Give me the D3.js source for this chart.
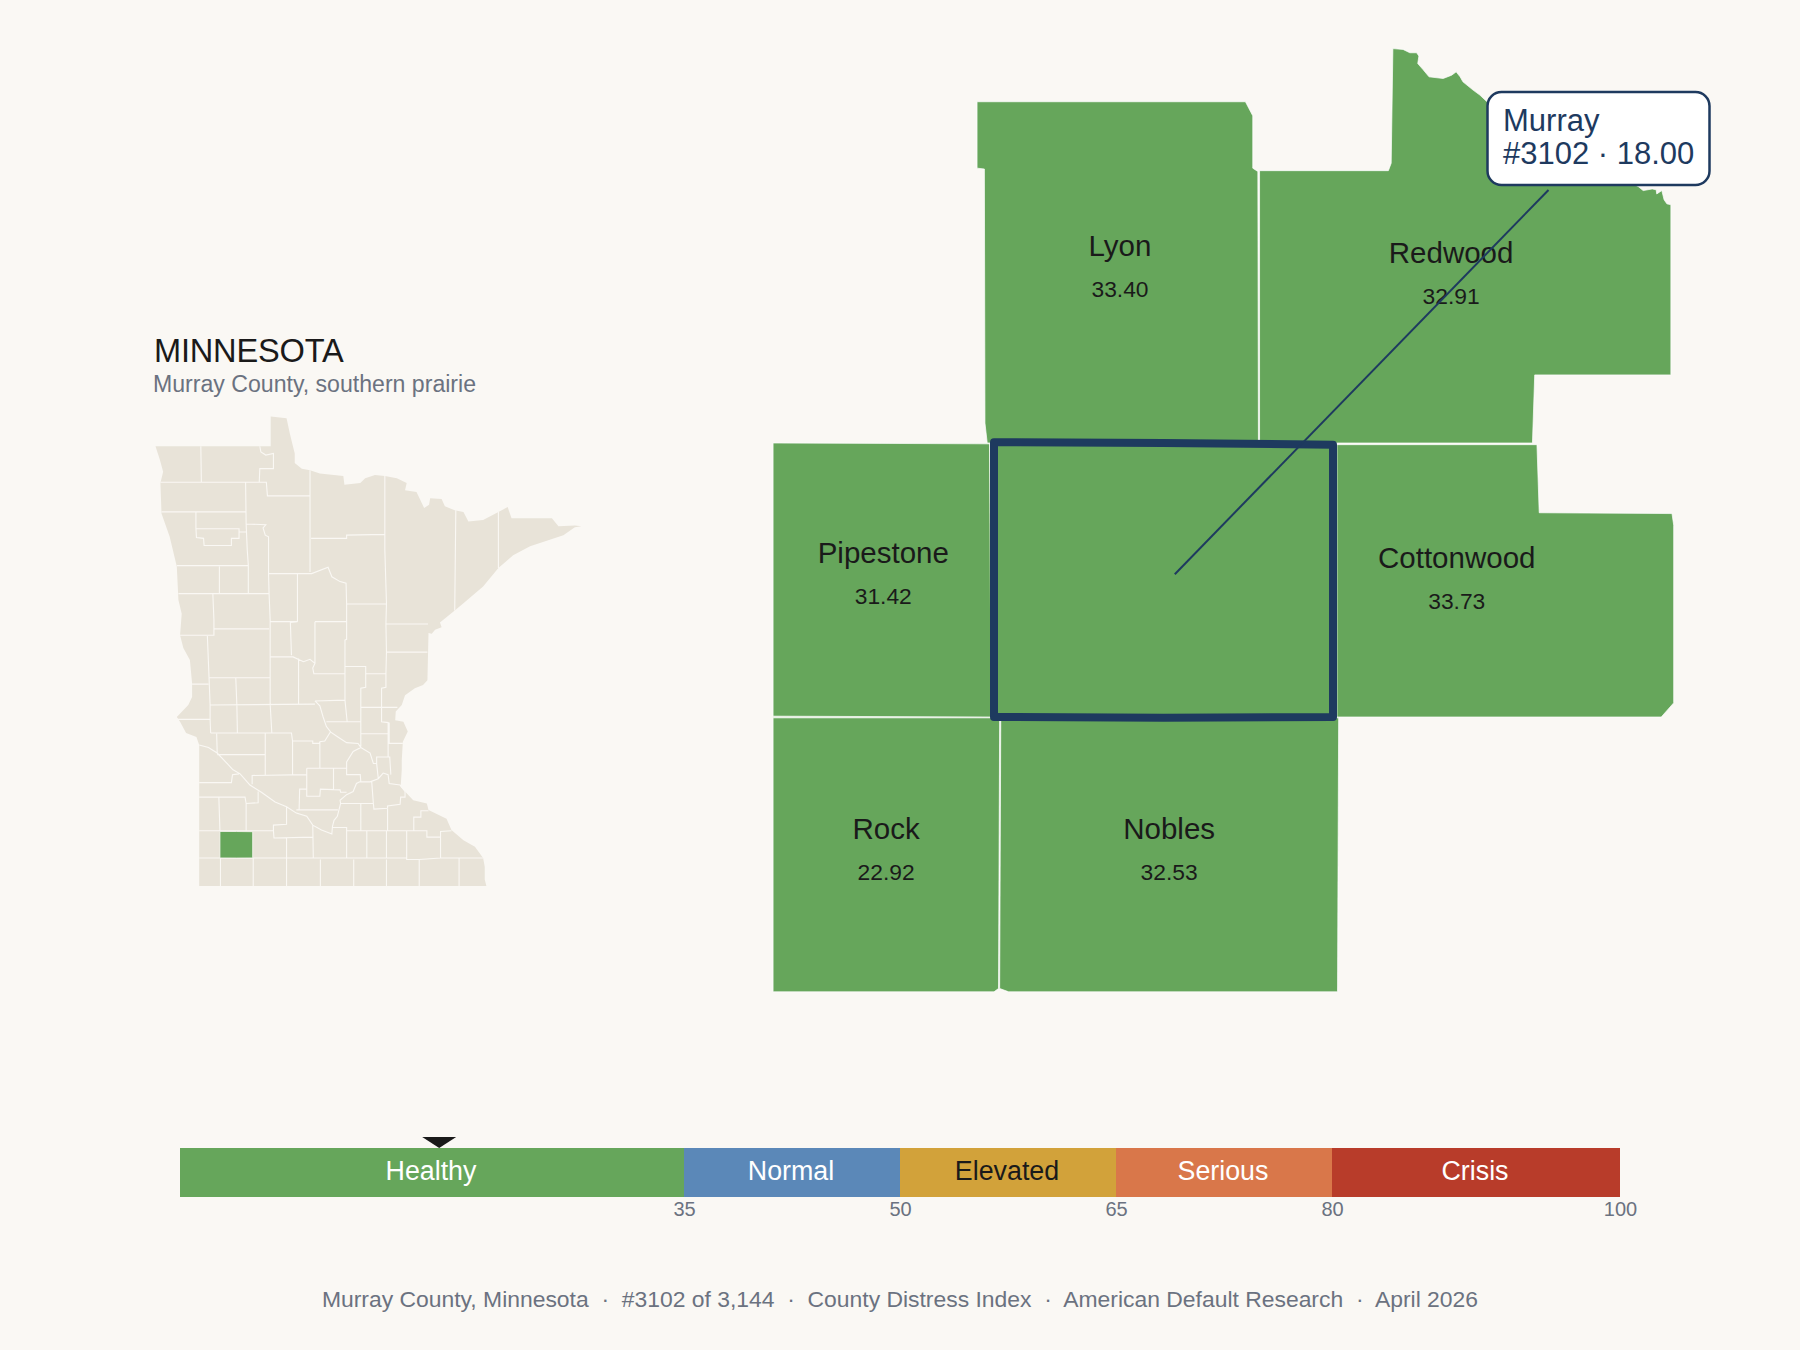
<!DOCTYPE html>
<html>
<head>
<meta charset="utf-8">
<title>Murray County, Minnesota</title>
<script src="https://d3js.org/d3.v7.min.js"></script>
<style>
	html, body { margin: 0; padding: 0; background: #faf8f4; }
	svg { display: block; }
	text { font-family: "Liberation Sans", Arial, sans-serif; }
</style>
</head>
<body>
<svg id="chart" width="1800" height="1350"></svg>
<script>
// Severity bands of the index
var bandLabels = ["Healthy", "Normal", "Elevated", "Serious", "Crisis"];
var bandBreaks = [0, 35, 50, 65, 80, 100];
var axisTicks = [35, 50, 65, 80, 100];

// Focus county
var focusName = "Murray";
var focusRank = 3102;
var focusScore = 18.00;
var focusAnchor = [-95.73, 44.022];
var focusRing = [[-96.05, 44.181], [-95.75, 44.18], [-95.45, 44.178], [-95.45, 43.85], [-95.75, 43.849], [-96.05, 43.85], [-96.05, 44.181]];

// Neighbouring counties, values, label points and outlines (lon, lat)
var neighbourNames = ["Lyon", "Redwood", "Pipestone", "Cottonwood", "Rock", "Nobles"];
var neighbourScores = [33.40, 32.91, 31.42, 33.73, 22.92, 32.53];
var neighbourLabelPoints = [[-95.827, 44.387], [-95.241, 44.379], [-96.246, 44.017], [-95.231, 44.011], [-96.241, 43.685], [-95.74, 43.685]];
var lyonRing = [[-96.08, 44.591], [-95.605, 44.591], [-95.592, 44.574], [-95.592, 44.511], [-95.583, 44.507], [-95.582, 44.18], [-96.062, 44.18], [-96.066, 44.204], [-96.067, 44.51], [-96.08, 44.511], [-96.08, 44.591]];
var redwoodRing = [
	[-95.58, 44.508], [-95.352, 44.508], [-95.347, 44.517], [-95.344, 44.655], [-95.326, 44.654], [-95.314, 44.65], [-95.302, 44.65], [-95.298, 44.646],
	[-95.3, 44.637], [-95.291, 44.63], [-95.28, 44.621], [-95.255, 44.619], [-95.24, 44.623], [-95.232, 44.627], [-95.225, 44.621], [-95.22, 44.615],
	[-95.202, 44.605], [-95.19, 44.599], [-95.179, 44.592], [-95.048, 44.533], [-94.91, 44.489], [-94.901, 44.484], [-94.885, 44.486], [-94.878, 44.485],
	[-94.877, 44.48], [-94.868, 44.484], [-94.864, 44.473], [-94.859, 44.468], [-94.852, 44.467], [-94.852, 44.262], [-95.093, 44.262], [-95.097, 44.18],
	[-95.58, 44.18], [-95.58, 44.508]
];
var pipestoneRing = [[-96.441, 44.18], [-96.058, 44.179], [-96.055, 43.85], [-96.441, 43.851], [-96.441, 44.18]];
var cottonwoodRing = [[-95.443, 44.178], [-95.089, 44.178], [-95.085, 44.096], [-94.85, 44.095], [-94.847, 44.081], [-94.847, 43.867], [-94.869, 43.85], [-95.443, 43.85], [-95.443, 44.178]];
var rockRing = [[-96.441, 43.849], [-96.04, 43.849], [-96.042, 43.523], [-96.05, 43.519], [-96.441, 43.519], [-96.441, 43.849]];
var noblesRing = [[-96.038, 43.849], [-95.44, 43.849], [-95.442, 43.519], [-96.024, 43.519], [-96.04, 43.523], [-96.038, 43.849]];
var neighbourRings = [lyonRing, redwoodRing, pipestoneRing, cottonwoodRing, rockRing, noblesRing];

// Minnesota state outline (lon, lat)
var stateOutline = [
	[-97.23, 48.99], [-95.32, 48.99], [-95.12, 48.99], [-95.12, 49.36], [-94.83, 49.34], [-94.77, 49.15], [-94.68, 48.9], [-94.68, 48.78],
	[-94.55, 48.71], [-94.4, 48.69], [-94.22, 48.65], [-93.79, 48.62], [-93.77, 48.51], [-93.48, 48.53], [-93.39, 48.59], [-93.21, 48.63],
	[-93.03, 48.62], [-92.81, 48.59], [-92.63, 48.53], [-92.66, 48.44], [-92.45, 48.42], [-92.31, 48.22], [-92.22, 48.26], [-92.2, 48.34],
	[-91.99, 48.33], [-91.93, 48.24], [-91.75, 48.19], [-91.59, 48.17], [-91.5, 48.05], [-91.23, 48.07], [-90.95, 48.17], [-90.78, 48.23],
	[-90.71, 48.09], [-90.43, 48.09], [-89.97, 48.09], [-89.85, 47.99], [-89.55, 48], [-89.43, 47.99], [-89.55, 47.98], [-89.76, 47.88],
	[-90.37, 47.74], [-90.68, 47.63], [-90.95, 47.47], [-91.23, 47.24], [-91.59, 47.03], [-91.75, 46.94], [-92.02, 46.79], [-91.99, 46.73],
	[-92.11, 46.7], [-92.17, 46.65], [-92.23, 46.66], [-92.25, 46.07], [-92.33, 46.01], [-92.48, 45.97], [-92.66, 45.88], [-92.72, 45.76],
	[-92.83, 45.68], [-92.84, 45.57], [-92.69, 45.55], [-92.61, 45.43], [-92.7, 45.3], [-92.72, 45.07], [-92.72, 44.95], [-92.74, 44.74],
	[-92.66, 44.68], [-92.51, 44.57], [-92.26, 44.53], [-92.23, 44.45], [-91.9, 44.34], [-91.81, 44.2], [-91.59, 44.07], [-91.38, 43.99],
	[-91.23, 43.85], [-91.2, 43.74], [-91.2, 43.58], [-91.17, 43.5], [-96.43, 43.5], [-96.43, 45.26], [-96.48, 45.36], [-96.67, 45.41],
	[-96.78, 45.55], [-96.84, 45.61], [-96.63, 45.76], [-96.56, 45.86], [-96.56, 46.03], [-96.6, 46.32], [-96.72, 46.47], [-96.78, 46.63],
	[-96.75, 46.9], [-96.81, 47.07], [-96.84, 47.49], [-96.97, 47.86], [-97.12, 48.15], [-97.14, 48.53], [-97.09, 48.67], [-97.15, 48.82],
	[-97.23, 48.99]
];

// County borders inside the state (lon, lat)
var countyBorders = [
	[[-96.4, 48.99], [-96.39, 48.54]],
	[[-95.32, 48.99], [-95.3, 48.92], [-95.21, 48.88], [-95.07, 48.9], [-95.07, 48.71], [-95.32, 48.71], [-95.33, 48.54]],
	[[-97.14, 48.54], [-95.2, 48.54], [-95.18, 48.37], [-94.4, 48.37]],
	[[-95.58, 48.54], [-95.57, 48.02], [-95.55, 47.7], [-95.53, 47.5], [-95.53, 47.15]],
	[[-95.57, 48.02], [-95.21, 48.01], [-95.26, 47.97], [-95.22, 47.88], [-95.16, 47.86], [-95.16, 47.4], [-95.15, 47.15], [-95.13, 46.82], [-95.13, 46.36], [-95.13, 45.77], [-95.1, 45.41]],
	[[-97.12, 48.17], [-95.57, 48.17]],
	[[-96.49, 48.17], [-96.49, 47.97], [-96.48, 47.85], [-96.35, 47.84], [-96.34, 47.75], [-95.84, 47.75], [-95.84, 47.84], [-95.7, 47.84], [-95.7, 47.96], [-96.49, 47.96]],
	[[-95.7, 47.92], [-95.57, 47.92]],
	[[-94.4, 48.69], [-94.4, 47.42]],
	[[-96.84, 47.5], [-95.53, 47.5]],
	[[-96.06, 47.49], [-96.06, 47.15]],
	[[-96.81, 47.15], [-95.15, 47.15]],
	[[-95.15, 47.4], [-94.37, 47.4], [-94.07, 47.48], [-94, 47.36], [-93.85, 47.3], [-93.74, 47.28], [-93.73, 47.03], [-93.73, 46.58], [-93.76, 46.57], [-93.76, 46.15], [-93.76, 45.82], [-93.72, 45.55]],
	[[-94.63, 47.4], [-94.63, 46.8]],
	[[-94.38, 47.84], [-93.73, 47.84], [-93.73, 47.88], [-93.03, 47.89]],
	[[-93.03, 48.62], [-93.03, 47.7], [-93, 47.03], [-93.01, 46.77], [-93, 46.42], [-93.01, 46.15], [-93.01, 45.98], [-93.09, 45.97], [-93.09, 45.55], [-92.97, 45.54], [-92.97, 45.11]],
	[[-93.73, 47.02], [-93, 47.02]],
	[[-91.73, 48.19], [-91.75, 46.94]],
	[[-90.95, 48.17], [-90.95, 47.47]],
	[[-96.18, 47.15], [-96.16, 46.82], [-96.16, 46.63]],
	[[-96.78, 46.63], [-96.16, 46.63], [-96.16, 46.71], [-95.15, 46.71]],
	[[-95.13, 46.8], [-94.63, 46.8], [-94.76, 46.79], [-94.74, 46.38]],
	[[-95.13, 46.36], [-94.71, 46.36], [-94.52, 46.3], [-94.4, 46.33], [-94.31, 46.28], [-94.35, 46.22], [-94.33, 46.15], [-93.76, 46.15]],
	[[-94.31, 46.8], [-93.73, 46.8]],
	[[-94.31, 46.8], [-94.31, 46.28]],
	[[-93.76, 46.24], [-93.38, 46.24], [-93.38, 45.98], [-93.47, 45.97], [-93.47, 45.24]],
	[[-93.38, 46.15], [-93.01, 46.15]],
	[[-93.01, 46.77], [-92.24, 46.77]],
	[[-93, 46.42], [-92.25, 46.42]],
	[[-94.61, 46.34], [-94.61, 45.77]],
	[[-96.28, 46.62], [-96.25, 46.11], [-96.23, 45.76], [-96.23, 45.58], [-96.22, 45.41]],
	[[-96.56, 46.02], [-96.26, 46.02]],
	[[-96.25, 46.1], [-95.13, 46.1]],
	[[-95.76, 46.1], [-95.74, 45.76], [-95.73, 45.41]],
	[[-96.23, 45.76], [-94.31, 45.77]],
	[[-94.31, 45.81], [-94.22, 45.75], [-94.16, 45.61], [-94.1, 45.49], [-94.02, 45.42], [-93.91, 45.37], [-93.73, 45.29], [-93.52, 45.28], [-93.47, 45.23]],
	[[-94.31, 45.81], [-93.76, 45.82]],
	[[-94.1, 45.55], [-93.47, 45.55]],
	[[-96.84, 45.58], [-96.23, 45.58]],
	[[-96.22, 45.41], [-94.74, 45.41], [-94.72, 45.31], [-94.35, 45.31], [-94.35, 45.28], [-94.23, 45.28], [-94.22, 45.3], [-94.13, 45.31], [-94.03, 45.42]],
	[[-96.11, 45.4], [-96.1, 45.16]],
	[[-96.43, 45.26], [-96.26, 45.23], [-96.1, 45.16], [-95.96, 45.06], [-95.81, 44.95], [-95.68, 44.9], [-95.5, 44.76], [-95.29, 44.67], [-95.04, 44.55], [-94.83, 44.49], [-94.65, 44.41], [-94.46, 44.37], [-94.35, 44.26], [-94.19, 44.2], [-94, 44.15], [-93.99, 44.24], [-93.96, 44.32], [-93.9, 44.37], [-93.84, 44.53], [-93.85, 44.57], [-93.73, 44.64], [-93.61, 44.68], [-93.55, 44.78], [-93.49, 44.8], [-93.3, 44.8], [-93.15, 44.84], [-93.06, 44.91], [-92.97, 44.89], [-92.95, 44.78], [-92.75, 44.76], [-92.66, 44.68]],
	[[-95.22, 45.41], [-95.22, 44.89]],
	[[-96.1, 45.14], [-95.22, 45.14]],
	[[-96.43, 44.79], [-95.84, 44.79], [-95.82, 44.89], [-95.7, 44.9]],
	[[-96.43, 44.61], [-95.59, 44.61], [-95.57, 44.53], [-95.35, 44.54], [-95.35, 44.68]],
	[[-96.07, 44.61], [-96.05, 44.19]],
	[[-95.57, 44.53], [-95.57, 44.19]],
	[[-96.43, 44.19], [-95.07, 44.19], [-95.07, 44.26], [-94.83, 44.27], [-94.83, 44.49]],
	[[-95.07, 44.19], [-95.06, 44.1], [-94.34, 44.11]],
	[[-94.35, 44.26], [-94.34, 43.85]],
	[[-94.83, 44.1], [-94.83, 43.85]],
	[[-96.43, 43.85], [-92.63, 43.85], [-92.63, 43.83], [-92.4, 43.83], [-92.01, 43.85], [-91.23, 43.85]],
	[[-96.04, 43.85], [-96.04, 43.5]],
	[[-95.44, 43.85], [-95.44, 43.5]],
	[[-94.83, 43.85], [-94.83, 43.5]],
	[[-94.21, 43.83], [-94.21, 43.5]],
	[[-93.6, 43.83], [-93.6, 43.5]],
	[[-93, 43.83], [-93, 43.5]],
	[[-92.4, 43.83], [-92.4, 43.5]],
	[[-91.67, 43.85], [-91.67, 43.5]],
	[[-93.99, 44.23], [-93.73, 44.23], [-93.73, 43.85]],
	[[-93.36, 44.19], [-93.36, 43.85]],
	[[-93, 44.19], [-93, 43.85]],
	[[-92.63, 44.19], [-92.63, 43.85]],
	[[-92.01, 44.18], [-92.01, 43.85]],
	[[-93.73, 44.19], [-92.26, 44.19], [-92.26, 44.11], [-92.01, 44.11], [-92.01, 44.18], [-91.81, 44.19]],
	[[-93.47, 44.53], [-93.47, 44.19]],
	[[-92.98, 44.49], [-92.98, 44.19]],
	[[-92.5, 44.19], [-92.5, 44.36], [-92.37, 44.36], [-92.37, 44.44], [-92.23, 44.44]],
	[[-93.84, 44.53], [-93.24, 44.53]],
	[[-93.27, 44.8], [-93.24, 44.53], [-93.23, 44.46], [-92.98, 44.47], [-92.98, 44.5], [-92.75, 44.52], [-92.74, 44.61], [-92.66, 44.61], [-92.66, 44.68]],
	[[-94.65, 44.45], [-93.89, 44.45]],
	[[-94.6, 44.45], [-94.59, 44.71], [-94.47, 44.71]],
	[[-94.46, 44.97], [-94.46, 44.62], [-94.22, 44.62], [-94.21, 44.71], [-93.85, 44.7], [-93.84, 44.67], [-93.73, 44.67]],
	[[-94.46, 44.97], [-93.73, 44.97]],
	[[-93.97, 44.97], [-93.97, 44.7]],
	[[-95.46, 44.77], [-95.46, 44.88], [-94.46, 44.89]],
	[[-94.72, 45.31], [-94.72, 44.89]],
	[[-94.22, 45.3], [-94.22, 44.97]],
	[[-93.47, 45.23], [-93.61, 45.18], [-93.73, 45.05], [-93.73, 44.89], [-93.48, 44.89], [-93.47, 44.8]],
	[[-93.47, 45.23], [-93.3, 45.16], [-93.24, 45.03], [-93.18, 45.03], [-93.15, 44.84]],
	[[-93.18, 45.03], [-93.18, 45.11], [-92.94, 45.11], [-92.92, 44.89]],
	[[-92.97, 45.28], [-92.7, 45.28]],
	[[-93.47, 45.4], [-92.95, 45.4]],
	[[-93.47, 45.73], [-92.8, 45.73]],
	[[-92.95, 45.54], [-92.95, 45.28]]
];

var footerParts = ["Murray County, Minnesota", "#3102 of 3,144", "County Distress Index", "American Default Research", "April 2026"];

var landColor = "#e8e3d8",
	navy = "#1e3a5f",
	ink = "#1a1a1a",
	muted = "#6b7280";

var bandColor = d3.scaleThreshold()
	.domain(bandBreaks.slice(1, -1))
	.range(["#66a65b", "#5b88b8", "#d2a23a", "#d9774a", "#b83c2a"]);

var svg = d3.select("#chart");

function ringFeature(ring) {
	return {type: "Polygon", coordinates: [ring]};
}

// Both maps use plain linear scales on lon and lat
function scaledPath(x, y) {
	return d3.geoPath(d3.geoTransform({
		point: function (lon, lat) {
			this.stream.point(x(lon), y(lat));
		}
	}));
}

/* ---------- Locator map ---------- */
var miniX = d3.scaleLinear().domain([-97.23, -89.43]).range([155.5, 581.4]),
	miniY = d3.scaleLinear().domain([43.5, 49.36]).range([886, 416.6]),
	miniPath = scaledPath(miniX, miniY);

svg.append("text").attr("x", 154).attr("y", 361.5)
	.attr("font-size", 32.6).attr("letter-spacing", -0.2).attr("fill", ink)
	.text("MINNESOTA");
svg.append("text").attr("x", 153).attr("y", 392)
	.attr("font-size", 23.1).attr("fill", muted)
	.text("Murray County, southern prairie");

svg.append("path")
	.attr("d", miniPath(ringFeature(stateOutline)))
	.attr("fill", landColor);
svg.append("path")
	.attr("d", miniPath({type: "MultiLineString", coordinates: countyBorders}))
	.attr("fill", "none")
	.attr("stroke", "#faf8f4")
	.attr("stroke-width", 1.1);
svg.append("path")
	.attr("d", miniPath(ringFeature(focusRing)))
	.attr("fill", bandColor(focusScore))
	.attr("stroke", "#faf8f4")
	.attr("stroke-width", 0.8);

/* ---------- Detail map ---------- */
var bigX = d3.scaleLinear().domain([-96.05, -95.45]).range([994, 1333]),
	bigY = d3.scaleLinear().domain([43.85, 44.18]).range([717, 443]),
	bigPath = scaledPath(bigX, bigY);

var neighbours = neighbourNames.map(function (name, i) {
	return {name: name, score: neighbourScores[i], labelPoint: neighbourLabelPoints[i], geo: ringFeature(neighbourRings[i])};
});

svg.append("g").selectAll("path")
	.data(neighbours)
	.join("path")
	.attr("d", function (d) { return bigPath(d.geo); })
	.attr("fill", function (d) { return bandColor(d.score); })
	.attr("stroke", "#ffffff")
	.attr("stroke-width", 0.7);

svg.append("path")
	.attr("d", bigPath(ringFeature(focusRing)))
	.attr("fill", bandColor(focusScore))
	.attr("stroke", navy)
	.attr("stroke-width", 8)
	.attr("stroke-linejoin", "round");

var labels = svg.append("g").selectAll("g")
	.data(neighbours)
	.join("g")
	.attr("text-anchor", "middle")
	.attr("fill", ink)
	.attr("transform", function (d) {
		return "translate(" + bigX(d.labelPoint[0]) + "," + bigY(d.labelPoint[1]) + ")";
	});
labels.append("text").attr("y", -15).attr("font-size", 29.5)
	.text(function (d) { return d.name; });
labels.append("text").attr("y", 26).attr("font-size", 22.8)
	.text(function (d) { return d3.format(".2f")(d.score); });

// Callout with its leader line
svg.append("line")
	.attr("x1", bigX(focusAnchor[0])).attr("y1", bigY(focusAnchor[1]))
	.attr("x2", 1548.5).attr("y2", 190)
	.attr("stroke", navy).attr("stroke-width", 2);
svg.append("rect")
	.attr("x", 1487.5).attr("y", 92).attr("width", 222).attr("height", 93).attr("rx", 14)
	.attr("fill", "#ffffff").attr("stroke", navy).attr("stroke-width", 2.5);
svg.append("text").attr("x", 1503).attr("y", 130.5)
	.attr("font-size", 31).attr("fill", navy)
	.text(focusName);
svg.append("text").attr("x", 1503).attr("y", 163.5)
	.attr("font-size", 31).attr("fill", navy)
	.text("#" + focusRank + " · " + d3.format(".2f")(focusScore));

/* ---------- Severity bar ---------- */
var barX = d3.scaleLinear().domain([0, 100]).range([180, 1620]),
	barTop = 1148,
	barHeight = 49;

var bands = bandLabels.map(function (label, i) {
	return {label: label, from: bandBreaks[i], to: bandBreaks[i + 1]};
});

svg.append("g").selectAll("rect")
	.data(bands)
	.join("rect")
	.attr("x", function (d) { return barX(d.from); })
	.attr("y", barTop)
	.attr("width", function (d) { return barX(d.to) - barX(d.from); })
	.attr("height", barHeight)
	.attr("fill", function (d) { return bandColor(d.from); });

svg.append("g").selectAll("text")
	.data(bands)
	.join("text")
	.attr("x", function (d) { return barX((d.from + d.to) / 2) - 1; })
	.attr("y", barTop + 32)
	.attr("text-anchor", "middle")
	.attr("font-size", 26.8)
	.attr("fill", function (d) { return d.label === "Elevated" ? ink : "#ffffff"; })
	.text(function (d) { return d.label; });

var axis = svg.append("g")
	.attr("transform", "translate(0," + (barTop + barHeight) + ")")
	.call(d3.axisBottom(barX).tickValues(axisTicks).tickSize(0).tickPadding(5));
axis.select(".domain").remove();
axis.selectAll("text")
	.attr("font-size", 20)
	.attr("font-family", "Liberation Sans")
	.attr("fill", muted);

// Marker above the bar at the county's score
svg.append("path")
	.attr("d", d3.line()([[barX(focusScore) - 17, barTop - 11], [barX(focusScore) + 17, barTop - 11], [barX(focusScore), barTop]]) + "Z")
	.attr("fill", ink);

/* ---------- Footer ---------- */
svg.append("text")
	.attr("x", 900).attr("y", 1307)
	.attr("text-anchor", "middle")
	.attr("font-size", 22.9)
	.attr("fill", muted)
	.attr("xml:space", "preserve")
	.text(footerParts.join("  ·  "));
</script>
</body>
</html>
